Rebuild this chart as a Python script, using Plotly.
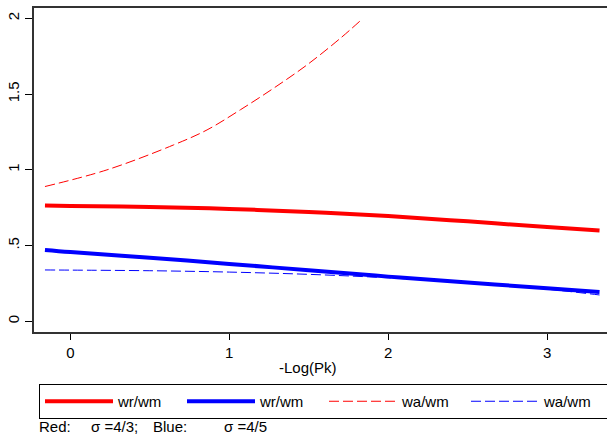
import plotly.graph_objects as go

# Data
x_solid = [-0.16, 0.0, 0.5, 1.0, 1.5, 2.0, 2.5, 3.0, 3.33]
red_wr = [0.764, 0.762, 0.755, 0.742, 0.722, 0.695, 0.660, 0.622, 0.599]
blue_wr = [0.471, 0.457, 0.420, 0.379, 0.337, 0.295, 0.256, 0.218, 0.194]
blue_wa = [0.339, 0.338, 0.334, 0.325, 0.310, 0.287, 0.255, 0.212, 0.174]
x_red_wa = [-0.16, 0.23, 0.65, 0.86, 1.07, 1.28, 1.49, 1.70, 1.83]
red_wa = [0.890, 1.000, 1.165, 1.264, 1.397, 1.540, 1.694, 1.870, 1.990]

y_ticks = [0, 0.5, 1, 1.5, 2]
y_ticklabels = ["0", ".5", "1", "1.5", "2"]
x_ticks = [0, 1, 2, 3]

FONT = "Liberation Sans, Arial, sans-serif"
FS = 15
W, H = 607, 437
L, R, T, B = 34, 0, 8, 105
pw, ph = W - L - R, H - T - B

fig = go.Figure()
fig.add_trace(go.Scatter(x=x_solid, y=red_wr, mode="lines", name="wr/wm",
                         line=dict(color="#ff0000", width=4, shape="spline")))
fig.add_trace(go.Scatter(x=x_solid, y=blue_wr, mode="lines", name="wr/wm",
                         line=dict(color="#0000ff", width=4, shape="spline")))
fig.add_trace(go.Scatter(x=x_red_wa, y=red_wa, mode="lines", name="wa/wm",
                         line=dict(color="#ff0000", width=1, dash="10px,4px", shape="spline")))
fig.add_trace(go.Scatter(x=x_solid, y=blue_wa, mode="lines", name="wa/wm",
                         line=dict(color="#0000ff", width=1, dash="10px,4px", shape="spline")))

def px_x(p):
    return (p - L) / pw

def px_y(p):
    return (H - B - p) / ph

fig.update_layout(
    width=W, height=H,
    margin=dict(l=L, r=R, t=T, b=B, autoexpand=False),
    paper_bgcolor="white", plot_bgcolor="white",
    font=dict(family=FONT, size=FS, color="black"),
    showlegend=True,
    legend=dict(
        orientation="h",
        x=px_x(39), xanchor="left",
        y=px_y(384), yanchor="top",
        bordercolor="black", borderwidth=1,
        entrywidth=59, entrywidthmode="pixels",
        itemwidth=68,
        font=dict(size=FS),
        bgcolor="white",
    ),
    xaxis=dict(
        range=[-0.229, 3.377],
        tickvals=x_ticks,
        ticks="outside", ticklen=6, tickwidth=1, tickcolor="black",
        showline=True, linecolor="#333333", linewidth=2,
        mirror=True, automargin=False,
        showgrid=False, zeroline=False,
        tickfont=dict(size=FS),
    ),
    yaxis=dict(
        range=[-0.0707, 2.069],
        tickvals=y_ticks, ticktext=y_ticklabels,
        tickangle=-90, automargin=False,
        ticks="outside", ticklen=7, tickwidth=1, tickcolor="black",
        showline=True, linecolor="#333333", linewidth=2,
        showgrid=False, zeroline=False,
        tickfont=dict(size=FS),
    ),
)

annotations = [
    dict(text="-Log(Pk)", x=px_x(308), y=px_y(367), xanchor="center", yanchor="middle"),
    dict(text="Red:", x=px_x(37), y=px_y(426), xanchor="left", yanchor="middle"),
    dict(text="σ =4/3;", x=px_x(89), y=px_y(426), xanchor="left", yanchor="middle"),
    dict(text="Blue:", x=px_x(151), y=px_y(426), xanchor="left", yanchor="middle"),
    dict(text="σ =4/5", x=px_x(222), y=px_y(426), xanchor="left", yanchor="middle"),
]
for a in annotations:
    fig.add_annotation(xref="paper", yref="paper", showarrow=False,
                       font=dict(family=FONT, size=FS, color="black"), **a)

fig.write_html("out.html",
               config={"displayModeBar": False},
               post_script="document.body.style.margin='0';document.body.style.overflow='hidden';")
